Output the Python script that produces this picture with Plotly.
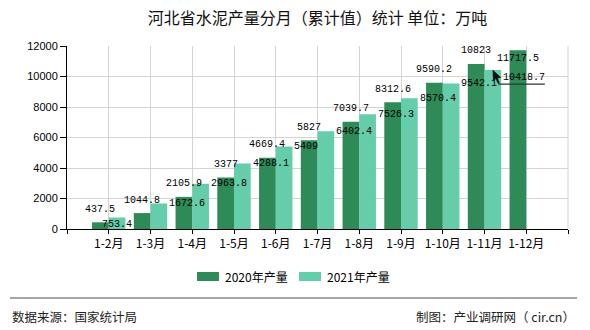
import plotly.graph_objects as go

# ---- data ----
months = ["1-2月", "1-3月", "1-4月", "1-5月", "1-6月", "1-7月",
          "1-8月", "1-9月", "1-10月", "1-11月", "1-12月"]
v2020 = [437.5, 1044.8, 2105.9, 3377, 4669.4, 5827, 7039.7, 8312.6, 9590.2, 10823, 11717.5]
v2021 = [753.4, 1672.6, 2963.8, 4288.1, 5409, 6402.4, 7526.3, 8570.4, 9542.1, 10418.7, None]
name2020 = "2020年产量"
name2021 = "2021年产量"
title = "河北省水泥产量分月（累计值）统计 单位：万吨"
source_left = "数据来源：国家统计局"
source_right = "制图：产业调研网（ cir.cn）"

# ---- style ----
C20 = "#2e8b57"
C21 = "#66cdaa"
W, H = 590, 330
ML, MR, MT, MB = 67, 22, 46, 101
PW, PH = W - ML - MR, H - MT - MB
BW = 0.4
lab20_dy = [13] * 10 + [-8]
lab21_mode = ["center"] + ["left"] * 10
lab21_dy = [-7] + [0] * 8 + [-7.5, 0]
LABFONT = dict(family="Liberation Mono, DejaVu Sans Mono, monospace", size=10, color="#000")


def px_x(p):
    return (p - ML) / PW


def px_y(p):
    return (H - MB - p) / PH


xs = list(range(1, len(months) + 1))

fig = go.Figure()
fig.add_bar(x=xs, y=v2020, width=BW, offset=-BW, marker_color=C20,
            marker_line_width=0, name=name2020, showlegend=False)
fig.add_bar(x=xs, y=v2021, width=BW, offset=0, marker_color=C21,
            marker_line_width=0, name=name2021, showlegend=False)

for i, v in enumerate(v2020):
    fig.add_annotation(x=xs[i] - BW / 2, y=v, text=f"{v:g}", showarrow=False,
                       xanchor="center", yanchor="middle", yshift=lab20_dy[i], font=LABFONT)
for i, v in enumerate(v2021):
    if v is None:
        continue
    if lab21_mode[i] == "center":
        fig.add_annotation(x=xs[i] + BW / 2, y=v, text=f"{v:g}", showarrow=False,
                           xanchor="center", yanchor="middle", yshift=lab21_dy[i], font=LABFONT)
    else:
        fig.add_annotation(x=xs[i] + BW, y=v, text=f"{v:g}", showarrow=False,
                           xanchor="left", yanchor="middle", yshift=lab21_dy[i], font=LABFONT)

# label leader line + cursor at the 1-11 2021 bar
k = 9
fig.add_shape(type="path", xref="x", yref="y", xsizemode="pixel", ysizemode="pixel",
              xanchor=xs[k] + BW / 2, yanchor=v2021[k],
              path="M2.5,-3 L6,-14 L52,-14", line=dict(color="#333", width=1.3))
fig.add_shape(type="path", xref="x", yref="y", xsizemode="pixel", ysizemode="pixel",
              xanchor=xs[k] + BW / 2, yanchor=v2021[k],
              path="M0,0 L0.5,-11 L3,-8.5 L5,-13 L6.5,-12.3 L4.5,-8 L8,-7.5 Z",
              fillcolor="#111", line=dict(color="#111", width=0.5))

# right border of plot
fig.add_shape(type="line", xref="paper", yref="paper", x0=1, x1=1, y0=0, y1=1,
              line=dict(color="#d4d4d4", width=1))

# custom legend
leg_y = 276.5
for (x0, x1, tx, col, nm) in [(197, 219, 223, C20, name2020), (299, 321, 325, C21, name2021)]:
    fig.add_shape(type="rect", xref="paper", yref="paper",
                  x0=px_x(x0), x1=px_x(x1), y0=px_y(leg_y + 4.5), y1=px_y(leg_y - 4.5),
                  fillcolor=col, line_width=0)
    fig.add_annotation(xref="paper", yref="paper", x=px_x(tx), y=px_y(leg_y), text=nm,
                       showarrow=False, xanchor="left", yanchor="middle",
                       font=dict(family="Noto Sans CJK SC", size=12, color="#000"))

# footer line and sources
fig.add_shape(type="line", xref="paper", yref="paper", x0=px_x(10), x1=px_x(577),
              y0=px_y(298), y1=px_y(298), line=dict(color="#888", width=1.5))
fig.add_annotation(xref="paper", yref="paper", x=px_x(10), y=px_y(316.5), text=source_left,
                   showarrow=False, xanchor="left", yanchor="middle",
                   font=dict(family="Noto Sans CJK SC", size=12.5, color="#222"))
fig.add_annotation(xref="paper", yref="paper", x=px_x(577), y=px_y(316.5), text=source_right,
                   showarrow=False, xanchor="right", yanchor="middle",
                   font=dict(family="Noto Sans CJK SC", size=12.5, color="#222"))

fig.update_layout(
    width=W, height=H,
    margin=dict(l=ML, r=MR, t=MT, b=MB, pad=0),
    paper_bgcolor="white", plot_bgcolor="white",
    barmode="overlay",
    title=dict(text=title, x=0.5, xref="paper", xanchor="center",
               y=1 - 18 / H, yanchor="middle",
               font=dict(family="Noto Sans CJK SC", size=16, color="#111")),
    xaxis=dict(range=[0, len(months) + 1], tickmode="array",
               tickvals=[0] + xs + [len(months) + 1],
               ticktext=[""] + months + [""],
               showgrid=True, gridcolor="#d4d4d4", gridwidth=1,
               showline=True, linecolor="#000", linewidth=1,
               ticks="outside", ticklen=4, tickcolor="#000",
               tickfont=dict(family="Noto Sans CJK SC", size=12, color="#000"),
               zeroline=False, fixedrange=True),
    yaxis=dict(range=[0, 12000], dtick=2000, tick0=0, tickformat="d",
               showgrid=True, gridcolor="#d4d4d4", gridwidth=1,
               showline=True, linecolor="#000", linewidth=1,
               ticks="outside", ticklen=6, tickcolor="#000",
               tickfont=dict(family="Liberation Sans, Arial", size=11, color="#000"),
               zeroline=False, fixedrange=True),
    showlegend=False,
)

fig.write_html("out.html")
